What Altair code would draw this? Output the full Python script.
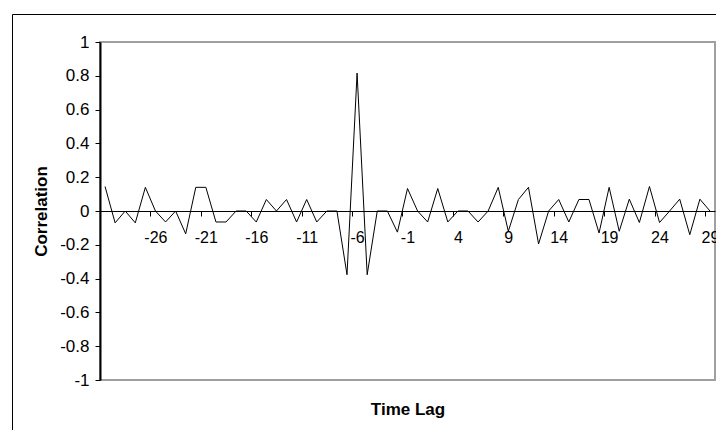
import altair as alt
import pandas as pd

lags = [-31, -30, -29, -28, -27, -26, -25, -24, -23, -22, -21, -20, -19, -18, -17,
        -16, -15, -14, -13, -12, -11, -10, -9, -8, -7, -6, -5, -4, -3, -2, -1,
        0, 1, 2, 3, 4, 5, 6, 7, 8, 9, 10, 11, 12, 13, 14, 15, 16, 17, 18, 19,
        20, 21, 22, 23, 24, 25, 26, 27, 28, 29]

correlation = [0.145, -0.07, 0.0, -0.07, 0.14, 0.0, -0.065, 0.0, -0.135, 0.14,
               0.14, -0.065, -0.065, 0.0, 0.0, -0.065, 0.068, 0.0, 0.068, -0.065,
               0.068, -0.065, 0.0, 0.0, -0.377, 0.816, -0.377, 0.0, 0.0, -0.125,
               0.133, 0.0, -0.065, 0.133, -0.065, 0.0, 0.0, -0.065, 0.0, 0.14,
               -0.12, 0.068, 0.14, -0.195, 0.0, 0.068, -0.065, 0.068, 0.068, -0.13,
               0.14, -0.12, 0.07, -0.068, 0.145, -0.068, 0.0, 0.07, -0.14, 0.07,
               0.0]

x_tick_values = [-26.5, -21.5, -16.5, -11.5, -6.5, -1.5, 3.5, 8.5, 13.5, 18.5, 23.5, 28.5]
y_tick_values = [-1.0, -0.8, -0.6, -0.4, -0.2, 0.0, 0.2, 0.4, 0.6, 0.8, 1.0]

df = pd.DataFrame({"lag": lags, "corr": correlation})

FONT = "Liberation Sans"
W, H = 615, 338

line = alt.Chart(df).mark_line(color="black", strokeWidth=1).encode(
    x=alt.X(
        "lag:Q",
        scale=alt.Scale(domain=[-31.5, 29.5], nice=False, zero=False),
        axis=alt.Axis(
            title="Time Lag",
            values=x_tick_values,
            labelExpr="'' + (datum.value + 0.5)",
            offset=-H / 2,
            tickSize=5,
            labelOffset=5,
            labelPadding=13,
            labelFontSize=16,
            grid=False,
            domainColor="black",
            domainWidth=1,
            tickColor="black",
            tickWidth=1,
            titleY=203,
            titleBaseline="alphabetic",
            labelOverlap=False,
            labelFlush=False,
        ),
    ),
    y=alt.Y(
        "corr:Q",
        scale=alt.Scale(domain=[-1, 1], nice=False, zero=False),
        axis=alt.Axis(
            title="Correlation",
            values=y_tick_values,
            labelExpr="'' + datum.value",
            tickSize=5,
            labelPadding=6,
            labelFontSize=17,
            grid=False,
            domainColor="black",
            domainWidth=2,
            tickColor="black",
            tickWidth=1,
            titleX=-59,
            titleBaseline="middle",
            labelOverlap=False,
            labelFlush=False,
        ),
    ),
)

border = alt.Chart(pd.DataFrame({"k": [0]})).mark_rect(
    filled=False, stroke="black", strokeWidth=1
).encode(
    x=alt.value(-87.5), x2=alt.value(900), y=alt.value(-27.5), y2=alt.value(700)
)

chart = alt.layer(border, line).properties(
    width=W,
    height=H,
    padding={"left": 100, "top": 42, "right": 1, "bottom": 50},
    autosize=alt.AutoSizeParams(type="none"),
    background="white",
).configure_view(
    stroke="#a0a0a0", strokeWidth=2
).configure_axis(
    labelFont=FONT,
    titleFont=FONT,
    labelColor="black",
    titleColor="black",
    titleFontSize=17,
    titleFontWeight="bold",
)

chart.save("out.html", embed_options={"renderer": "svg", "actions": False})
